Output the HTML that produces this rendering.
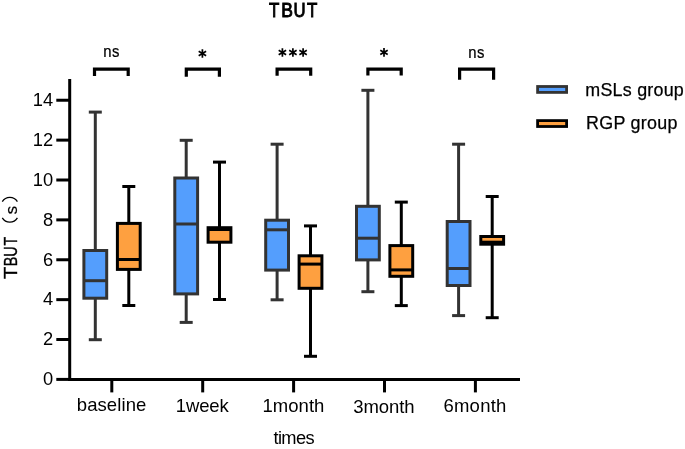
<!DOCTYPE html>
<html><head><meta charset="utf-8"><style>
html,body{margin:0;padding:0;background:#fff;}
body{width:685px;height:449px;overflow:hidden;}
svg{display:block;position:absolute;left:0;top:0;}
#tx{filter:grayscale(1);}
.t{font-family:"Liberation Sans",sans-serif;fill:#000;}
.b{font-family:"Liberation Sans",sans-serif;font-weight:bold;fill:#000;}
</style></head><body>
<svg width="685" height="449" viewBox="0 0 685 449">
<line x1="95.30" y1="112.10" x2="95.30" y2="250.50" stroke="#333333" stroke-width="3.0" stroke-linecap="butt"/>
<line x1="95.30" y1="298.20" x2="95.30" y2="339.70" stroke="#333333" stroke-width="3.0" stroke-linecap="butt"/>
<line x1="88.80" y1="112.10" x2="101.80" y2="112.10" stroke="#333333" stroke-width="3.0" stroke-linecap="butt"/>
<line x1="88.80" y1="339.70" x2="101.80" y2="339.70" stroke="#333333" stroke-width="3.0" stroke-linecap="butt"/>
<rect x="83.90" y="250.50" width="22.80" height="47.70" fill="#549EFD" stroke="#333333" stroke-width="3.0"/>
<line x1="83.90" y1="280.70" x2="106.70" y2="280.70" stroke="#333333" stroke-width="3.0" stroke-linecap="butt"/>
<line x1="128.80" y1="186.50" x2="128.80" y2="223.40" stroke="#000000" stroke-width="3.0" stroke-linecap="butt"/>
<line x1="128.80" y1="269.40" x2="128.80" y2="305.50" stroke="#000000" stroke-width="3.0" stroke-linecap="butt"/>
<line x1="122.30" y1="186.50" x2="135.30" y2="186.50" stroke="#000000" stroke-width="3.0" stroke-linecap="butt"/>
<line x1="122.30" y1="305.50" x2="135.30" y2="305.50" stroke="#000000" stroke-width="3.0" stroke-linecap="butt"/>
<rect x="117.40" y="223.40" width="22.80" height="46.00" fill="#FEA040" stroke="#000000" stroke-width="3.0"/>
<line x1="117.40" y1="259.50" x2="140.20" y2="259.50" stroke="#000000" stroke-width="3.0" stroke-linecap="butt"/>
<line x1="186.20" y1="140.30" x2="186.20" y2="178.00" stroke="#333333" stroke-width="3.0" stroke-linecap="butt"/>
<line x1="186.20" y1="293.90" x2="186.20" y2="322.40" stroke="#333333" stroke-width="3.0" stroke-linecap="butt"/>
<line x1="179.70" y1="140.30" x2="192.70" y2="140.30" stroke="#333333" stroke-width="3.0" stroke-linecap="butt"/>
<line x1="179.70" y1="322.40" x2="192.70" y2="322.40" stroke="#333333" stroke-width="3.0" stroke-linecap="butt"/>
<rect x="174.80" y="178.00" width="22.80" height="115.90" fill="#549EFD" stroke="#333333" stroke-width="3.0"/>
<line x1="174.80" y1="224.00" x2="197.60" y2="224.00" stroke="#333333" stroke-width="3.0" stroke-linecap="butt"/>
<line x1="219.50" y1="162.10" x2="219.50" y2="227.70" stroke="#000000" stroke-width="3.0" stroke-linecap="butt"/>
<line x1="219.50" y1="242.20" x2="219.50" y2="299.50" stroke="#000000" stroke-width="3.0" stroke-linecap="butt"/>
<line x1="213.00" y1="162.10" x2="226.00" y2="162.10" stroke="#000000" stroke-width="3.0" stroke-linecap="butt"/>
<line x1="213.00" y1="299.50" x2="226.00" y2="299.50" stroke="#000000" stroke-width="3.0" stroke-linecap="butt"/>
<rect x="208.10" y="227.70" width="22.80" height="14.50" fill="#FEA040" stroke="#000000" stroke-width="3.0"/>
<line x1="208.10" y1="229.50" x2="230.90" y2="229.50" stroke="#000000" stroke-width="3.0" stroke-linecap="butt"/>
<line x1="277.10" y1="144.20" x2="277.10" y2="220.20" stroke="#333333" stroke-width="3.0" stroke-linecap="butt"/>
<line x1="277.10" y1="270.10" x2="277.10" y2="299.80" stroke="#333333" stroke-width="3.0" stroke-linecap="butt"/>
<line x1="270.60" y1="144.20" x2="283.60" y2="144.20" stroke="#333333" stroke-width="3.0" stroke-linecap="butt"/>
<line x1="270.60" y1="299.80" x2="283.60" y2="299.80" stroke="#333333" stroke-width="3.0" stroke-linecap="butt"/>
<rect x="265.70" y="220.20" width="22.80" height="49.90" fill="#549EFD" stroke="#333333" stroke-width="3.0"/>
<line x1="265.70" y1="229.80" x2="288.50" y2="229.80" stroke="#333333" stroke-width="3.0" stroke-linecap="butt"/>
<line x1="310.50" y1="225.90" x2="310.50" y2="255.80" stroke="#000000" stroke-width="3.0" stroke-linecap="butt"/>
<line x1="310.50" y1="288.30" x2="310.50" y2="356.30" stroke="#000000" stroke-width="3.0" stroke-linecap="butt"/>
<line x1="304.00" y1="225.90" x2="317.00" y2="225.90" stroke="#000000" stroke-width="3.0" stroke-linecap="butt"/>
<line x1="304.00" y1="356.30" x2="317.00" y2="356.30" stroke="#000000" stroke-width="3.0" stroke-linecap="butt"/>
<rect x="299.10" y="255.80" width="22.80" height="32.50" fill="#FEA040" stroke="#000000" stroke-width="3.0"/>
<line x1="299.10" y1="264.10" x2="321.90" y2="264.10" stroke="#000000" stroke-width="3.0" stroke-linecap="butt"/>
<line x1="367.90" y1="90.30" x2="367.90" y2="206.30" stroke="#333333" stroke-width="3.0" stroke-linecap="butt"/>
<line x1="367.90" y1="259.90" x2="367.90" y2="291.70" stroke="#333333" stroke-width="3.0" stroke-linecap="butt"/>
<line x1="361.40" y1="90.30" x2="374.40" y2="90.30" stroke="#333333" stroke-width="3.0" stroke-linecap="butt"/>
<line x1="361.40" y1="291.70" x2="374.40" y2="291.70" stroke="#333333" stroke-width="3.0" stroke-linecap="butt"/>
<rect x="356.50" y="206.30" width="22.80" height="53.60" fill="#549EFD" stroke="#333333" stroke-width="3.0"/>
<line x1="356.50" y1="238.20" x2="379.30" y2="238.20" stroke="#333333" stroke-width="3.0" stroke-linecap="butt"/>
<line x1="401.30" y1="202.10" x2="401.30" y2="245.60" stroke="#000000" stroke-width="3.0" stroke-linecap="butt"/>
<line x1="401.30" y1="276.30" x2="401.30" y2="305.60" stroke="#000000" stroke-width="3.0" stroke-linecap="butt"/>
<line x1="394.80" y1="202.10" x2="407.80" y2="202.10" stroke="#000000" stroke-width="3.0" stroke-linecap="butt"/>
<line x1="394.80" y1="305.60" x2="407.80" y2="305.60" stroke="#000000" stroke-width="3.0" stroke-linecap="butt"/>
<rect x="389.90" y="245.60" width="22.80" height="30.70" fill="#FEA040" stroke="#000000" stroke-width="3.0"/>
<line x1="389.90" y1="269.90" x2="412.70" y2="269.90" stroke="#000000" stroke-width="3.0" stroke-linecap="butt"/>
<line x1="458.60" y1="144.20" x2="458.60" y2="221.50" stroke="#333333" stroke-width="3.0" stroke-linecap="butt"/>
<line x1="458.60" y1="285.50" x2="458.60" y2="315.60" stroke="#333333" stroke-width="3.0" stroke-linecap="butt"/>
<line x1="452.10" y1="144.20" x2="465.10" y2="144.20" stroke="#333333" stroke-width="3.0" stroke-linecap="butt"/>
<line x1="452.10" y1="315.60" x2="465.10" y2="315.60" stroke="#333333" stroke-width="3.0" stroke-linecap="butt"/>
<rect x="447.20" y="221.50" width="22.80" height="64.00" fill="#549EFD" stroke="#333333" stroke-width="3.0"/>
<line x1="447.20" y1="268.50" x2="470.00" y2="268.50" stroke="#333333" stroke-width="3.0" stroke-linecap="butt"/>
<line x1="492.20" y1="196.50" x2="492.20" y2="236.50" stroke="#000000" stroke-width="3.0" stroke-linecap="butt"/>
<line x1="492.20" y1="244.20" x2="492.20" y2="317.70" stroke="#000000" stroke-width="3.0" stroke-linecap="butt"/>
<line x1="485.70" y1="196.50" x2="498.70" y2="196.50" stroke="#000000" stroke-width="3.0" stroke-linecap="butt"/>
<line x1="485.70" y1="317.70" x2="498.70" y2="317.70" stroke="#000000" stroke-width="3.0" stroke-linecap="butt"/>
<rect x="480.80" y="236.50" width="22.80" height="7.70" fill="#FEA040" stroke="#000000" stroke-width="3.0"/>
<line x1="480.80" y1="242.20" x2="503.60" y2="242.20" stroke="#000000" stroke-width="3.0" stroke-linecap="butt"/>
<line x1="69.70" y1="79.00" x2="69.70" y2="380.90" stroke="#000" stroke-width="3.0" stroke-linecap="butt"/>
<line x1="68.20" y1="379.40" x2="520.00" y2="379.40" stroke="#000" stroke-width="3.0" stroke-linecap="butt"/>
<line x1="56.30" y1="379.40" x2="69.70" y2="379.40" stroke="#000" stroke-width="3.0" stroke-linecap="butt"/>
<line x1="56.30" y1="339.52" x2="69.70" y2="339.52" stroke="#000" stroke-width="3.0" stroke-linecap="butt"/>
<line x1="56.30" y1="299.64" x2="69.70" y2="299.64" stroke="#000" stroke-width="3.0" stroke-linecap="butt"/>
<line x1="56.30" y1="259.76" x2="69.70" y2="259.76" stroke="#000" stroke-width="3.0" stroke-linecap="butt"/>
<line x1="56.30" y1="219.88" x2="69.70" y2="219.88" stroke="#000" stroke-width="3.0" stroke-linecap="butt"/>
<line x1="56.30" y1="180.00" x2="69.70" y2="180.00" stroke="#000" stroke-width="3.0" stroke-linecap="butt"/>
<line x1="56.30" y1="140.12" x2="69.70" y2="140.12" stroke="#000" stroke-width="3.0" stroke-linecap="butt"/>
<line x1="56.30" y1="100.24" x2="69.70" y2="100.24" stroke="#000" stroke-width="3.0" stroke-linecap="butt"/>
<line x1="111.80" y1="379.40" x2="111.80" y2="392.40" stroke="#000" stroke-width="3.0" stroke-linecap="butt"/>
<line x1="202.70" y1="379.40" x2="202.70" y2="392.40" stroke="#000" stroke-width="3.0" stroke-linecap="butt"/>
<line x1="293.60" y1="379.40" x2="293.60" y2="392.40" stroke="#000" stroke-width="3.0" stroke-linecap="butt"/>
<line x1="384.50" y1="379.40" x2="384.50" y2="392.40" stroke="#000" stroke-width="3.0" stroke-linecap="butt"/>
<line x1="475.40" y1="379.40" x2="475.40" y2="392.40" stroke="#000" stroke-width="3.0" stroke-linecap="butt"/>
<path d="M94.50,76.00 V69.20 H128.20 V76.00" fill="none" stroke="#000" stroke-width="3.2"/>
<path d="M186.30,76.80 V69.20 H219.40 V76.80" fill="none" stroke="#000" stroke-width="3.2"/>
<path d="M277.10,75.70 V69.20 H310.70 V75.70" fill="none" stroke="#000" stroke-width="3.2"/>
<path d="M367.90,75.60 V69.20 H401.20 V75.60" fill="none" stroke="#000" stroke-width="3.2"/>
<path d="M459.60,79.70 V69.20 H493.60 V79.70" fill="none" stroke="#000" stroke-width="3.2"/>
<rect x="537.60" y="86.50" width="29.00" height="5.90" fill="#549EFD" stroke="#333333" stroke-width="2.8"/>
<rect x="537.60" y="120.60" width="29.00" height="5.90" fill="#FEA040" stroke="#000" stroke-width="2.8"/>
</svg>
<svg id="tx" width="685" height="449" viewBox="0 0 685 449">
<text x="76.80" y="411.40" class="t" style="font-size:18.50px" textLength="69.50" lengthAdjust="spacing">baseline</text>
<text x="175.80" y="411.60" class="t" style="font-size:18.50px" textLength="52.90" lengthAdjust="spacing">1week</text>
<text x="262.40" y="412.00" class="t" style="font-size:18.50px" textLength="62.00" lengthAdjust="spacing">1month</text>
<text x="353.20" y="412.60" class="t" style="font-size:18.50px" textLength="61.40" lengthAdjust="spacing">3month</text>
<text x="443.40" y="412.00" class="t" style="font-size:18.50px" textLength="63.00" lengthAdjust="spacing">6month</text>
<text x="273.40" y="444.00" class="t" style="font-size:18.30px" textLength="41.30" lengthAdjust="spacing">times</text>
<text x="585.30" y="95.80" class="t" style="font-size:17.90px" textLength="98.50" lengthAdjust="spacing" stroke="#000" stroke-width="0.25">mSLs group</text>
<text x="586.00" y="129.30" class="t" style="font-size:17.90px" textLength="91.50" lengthAdjust="spacing" stroke="#000" stroke-width="0.25">RGP group</text>
<text x="53.20" y="385.20" text-anchor="end" class="t" style="font-size:18.3px">0</text>
<text x="53.20" y="345.32" text-anchor="end" class="t" style="font-size:18.3px">2</text>
<text x="53.20" y="305.44" text-anchor="end" class="t" style="font-size:18.3px">4</text>
<text x="53.20" y="265.56" text-anchor="end" class="t" style="font-size:18.3px">6</text>
<text x="53.20" y="225.68" text-anchor="end" class="t" style="font-size:18.3px">8</text>
<text x="53.20" y="185.80" text-anchor="end" class="t" style="font-size:18.3px">10</text>
<text x="53.20" y="145.92" text-anchor="end" class="t" style="font-size:18.3px">12</text>
<text x="53.20" y="106.04" text-anchor="end" class="t" style="font-size:18.3px">14</text>
<text transform="translate(274.10,17.20) scale(0.82,1)" text-anchor="middle" class="t" style="font-size:20.6px" stroke="#000" stroke-width="0.95">T</text>
<text transform="translate(287.05,17.20) scale(0.85,1)" text-anchor="middle" class="t" style="font-size:20.6px" stroke="#000" stroke-width="0.95">B</text>
<text transform="translate(299.60,17.20) scale(0.81,1)" text-anchor="middle" class="t" style="font-size:20.6px" stroke="#000" stroke-width="0.95">U</text>
<text transform="translate(312.10,17.20) scale(0.82,1)" text-anchor="middle" class="t" style="font-size:20.6px" stroke="#000" stroke-width="0.95">T</text>
<text transform="translate(107.45,57.35) scale(0.88,1)" text-anchor="middle" class="t" style="font-size:16.9px" stroke="#000" stroke-width="0.25">n</text>
<text transform="translate(115.65,57.35) scale(0.88,1)" text-anchor="middle" class="t" style="font-size:16.9px" stroke="#000" stroke-width="0.25">s</text>
<text transform="translate(472.45,57.55) scale(0.88,1)" text-anchor="middle" class="t" style="font-size:16.9px" stroke="#000" stroke-width="0.25">n</text>
<text transform="translate(480.65,57.55) scale(0.88,1)" text-anchor="middle" class="t" style="font-size:16.9px" stroke="#000" stroke-width="0.25">s</text>
<text transform="translate(17.30,272.80) rotate(-90) scale(1.06,1)" text-anchor="middle" class="t" style="font-size:19px" stroke="#000" stroke-width="0.4">T</text>
<text transform="translate(17.30,261.50) rotate(-90) scale(0.76,1)" text-anchor="middle" class="t" style="font-size:19px" stroke="#000" stroke-width="0.4">B</text>
<text transform="translate(17.30,251.50) rotate(-90) scale(0.76,1)" text-anchor="middle" class="t" style="font-size:19px" stroke="#000" stroke-width="0.4">U</text>
<text transform="translate(17.30,241.10) rotate(-90) scale(0.74,1)" text-anchor="middle" class="t" style="font-size:19px" stroke="#000" stroke-width="0.4">T</text>
<text transform="translate(17.30,210.00) rotate(-90) scale(1.0,1)" text-anchor="middle" class="t" style="font-size:16.7px" stroke="#000" stroke-width="0.2">s</text>
<path d="M2.3,217.9 A8.85,8.85 0 0 0 17.4,217.9" fill="none" stroke="#000" stroke-width="1.3"/>
<path d="M2.3,201.6 A8.85,8.85 0 0 1 17.4,201.6" fill="none" stroke="#000" stroke-width="1.3"/>
<path d="M202.40,57.80L202.40,49.20M198.68,55.65L206.12,51.35M198.68,51.35L206.12,55.65" stroke="#000" stroke-width="1.7" fill="none"/>
<path d="M282.40,56.80L282.40,48.20M278.68,54.65L286.12,50.35M278.68,50.35L286.12,54.65" stroke="#000" stroke-width="1.7" fill="none"/>
<path d="M292.90,56.80L292.90,48.20M289.18,54.65L296.62,50.35M289.18,50.35L296.62,54.65" stroke="#000" stroke-width="1.7" fill="none"/>
<path d="M303.10,56.80L303.10,48.20M299.38,54.65L306.82,50.35M299.38,50.35L306.82,54.65" stroke="#000" stroke-width="1.7" fill="none"/>
<path d="M384.00,56.70L384.00,48.10M380.28,54.55L387.72,50.25M380.28,50.25L387.72,54.55" stroke="#000" stroke-width="1.7" fill="none"/>
</svg>
</body></html>
